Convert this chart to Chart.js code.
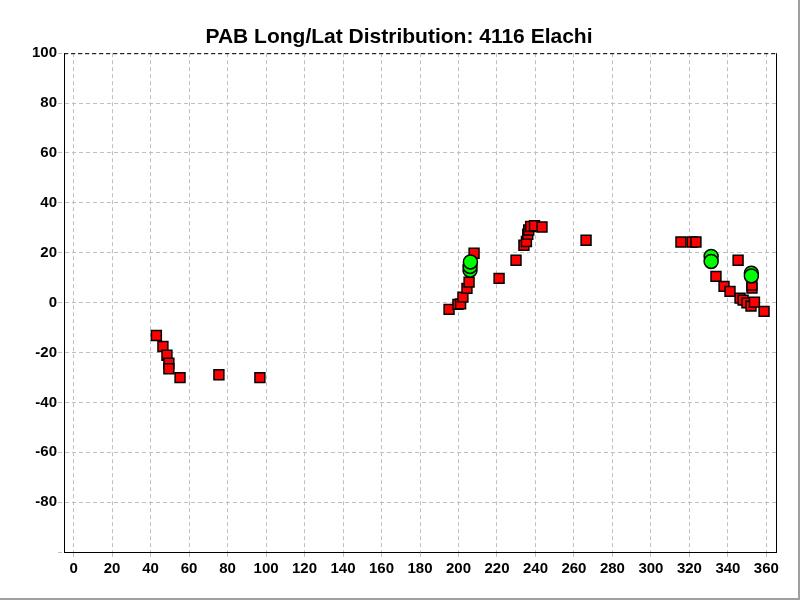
<!DOCTYPE html>
<html>
<head>
<meta charset="utf-8">
<script src="https://cdn.jsdelivr.net/npm/chart.js@4.4.1/dist/chart.umd.min.js"></script>
<style>
  html, body { margin: 0; padding: 0; background: #fff; }
  #wrap { width: 800px; height: 600px; box-sizing: border-box; border-right: 2px solid #a0a0a0; border-bottom: 2px solid #a0a0a0; }
</style>
</head>
<body>
<div id="wrap"><canvas id="c"></canvas></div>
<script>
const chartTitle = 'PAB Long/Lat Distribution: 4116 Elachi';

const squareLon = [43.0, 46.4, 48.5, 49.5, 49.5, 55.3, 75.5, 96.8,
  195.1, 199.7, 201.1, 202.3, 204.4, 205.5, 208.1, 221.1, 229.9, 234.0, 235.3, 236.0, 236.5, 237.5, 239.5, 243.4, 266.3,
  315.6, 321.4, 323.4, 345.3, 333.8, 338.0, 341.1, 346.3, 347.9, 349.9, 352.0, 353.8, 352.5, 352.5, 358.8];
const squareLat = [-13.2, -17.6, -21.1, -24.3, -26.5, -30.1, -28.9, -30.1,
  -2.7, -0.7, -0.5, 2.2, 5.7, 8.2, 19.8, 9.7, 17.0, 23.0, 24.5, 27.4, 29.1, 30.5, 30.8, 30.3, 25.0,
  24.3, 24.3, 24.3, 17.0, 10.5, 6.5, 4.5, 1.8, 1.0, -0.1, -1.4, 0.2, 5.8, 7.0, -3.5];

const circleLon = [206.0, 206.0, 206.2, 331.3, 331.3, 352.2, 352.2];
const circleLat = [13.0, 14.5, 16.3, 18.5, 16.5, 11.8, 10.7];

const xTickMin = -5, xTickMax = 365, xStep = 20;
const yTickMin = -100, yTickMax = 100, yStep = 20;

const toPts = (xs, ys) => xs.map((x, i) => ({ x: x, y: ys[i] }));

const frame = {
  id: 'frame',
  afterDatasetsDraw(chart) {
    const a = chart.chartArea, ctx = chart.ctx;
    ctx.save();
    ctx.strokeStyle = '#000';
    ctx.lineWidth = 1;
    ctx.beginPath();
    ctx.moveTo(a.right + 0.5, a.top);
    ctx.lineTo(a.right + 0.5, a.bottom);
    ctx.stroke();
    ctx.setLineDash([4, 3]);
    ctx.beginPath();
    ctx.moveTo(a.left, a.top + 0.5);
    ctx.lineTo(a.right, a.top + 0.5);
    ctx.stroke();
    ctx.restore();
  }
};

new Chart(document.getElementById('c'), {
  type: 'scatter',
  data: {
    datasets: [
      {
        label: 'circles',
        data: toPts(circleLon, circleLat),
        pointStyle: 'circle',
        pointRadius: 7,
        backgroundColor: '#00ff00',
        borderColor: '#000',
        borderWidth: 1.5,
        order: 0
      },
      {
        label: 'squares',
        data: toPts(squareLon, squareLat),
        pointStyle: 'rect',
        pointRadius: 7,
        backgroundColor: '#ff0000',
        borderColor: '#000',
        borderWidth: 1.5,
        order: 1
      }
    ]
  },
  plugins: [frame],
  options: {
    responsive: true,
    maintainAspectRatio: false,
    animation: false,
    events: [],
    layout: { padding: 0 },
    plugins: {
      legend: { display: false },
      tooltip: { enabled: false },
      title: {
        display: true,
        text: chartTitle,
        color: '#000',
        font: { family: 'Liberation Sans, Arial', size: 21, weight: 'bold' },
        padding: { top: 25, bottom: 3 }
      }
    },
    scales: {
      x: {
        type: 'linear',
        min: xTickMin, max: xTickMax,
        afterFit(s) { s.height = 46; },
        ticks: {
          stepSize: xStep, includeBounds: false,
          color: '#000', padding: 2,
          font: { family: 'Liberation Sans, Arial', size: 15, weight: 'bold' },
          maxRotation: 0, autoSkip: false
        },
        grid: { color: '#c0c0c0', tickLength: 6, lineWidth: 1, drawTicks: true, tickBorderDash: [4, 3] },
        border: { display: true, color: '#000', width: 1, dash: [4, 3] }
      },
      y: {
        type: 'linear',
        min: yTickMin, max: yTickMax,
        afterFit(s) { s.width = 64; },
        ticks: {
          stepSize: yStep, color: '#000', padding: 1,
          font: { family: 'Liberation Sans, Arial', size: 15, weight: 'bold' },
          callback: (v) => v === yTickMin ? '' : v
        },
        grid: { color: '#c0c0c0', tickLength: 6, lineWidth: 1, tickBorderDash: [4, 3] },
        border: { display: true, color: '#000', width: 1, dash: [4, 3] }
      },
      yRight: {
        type: 'linear',
        position: 'right',
        min: yTickMin, max: yTickMax,
        afterFit(s) { s.width = 22; },
        ticks: { display: false },
        grid: { display: false, drawTicks: false },
        border: { display: false }
      }
    }
  }
});
</script>
</body>
</html>
